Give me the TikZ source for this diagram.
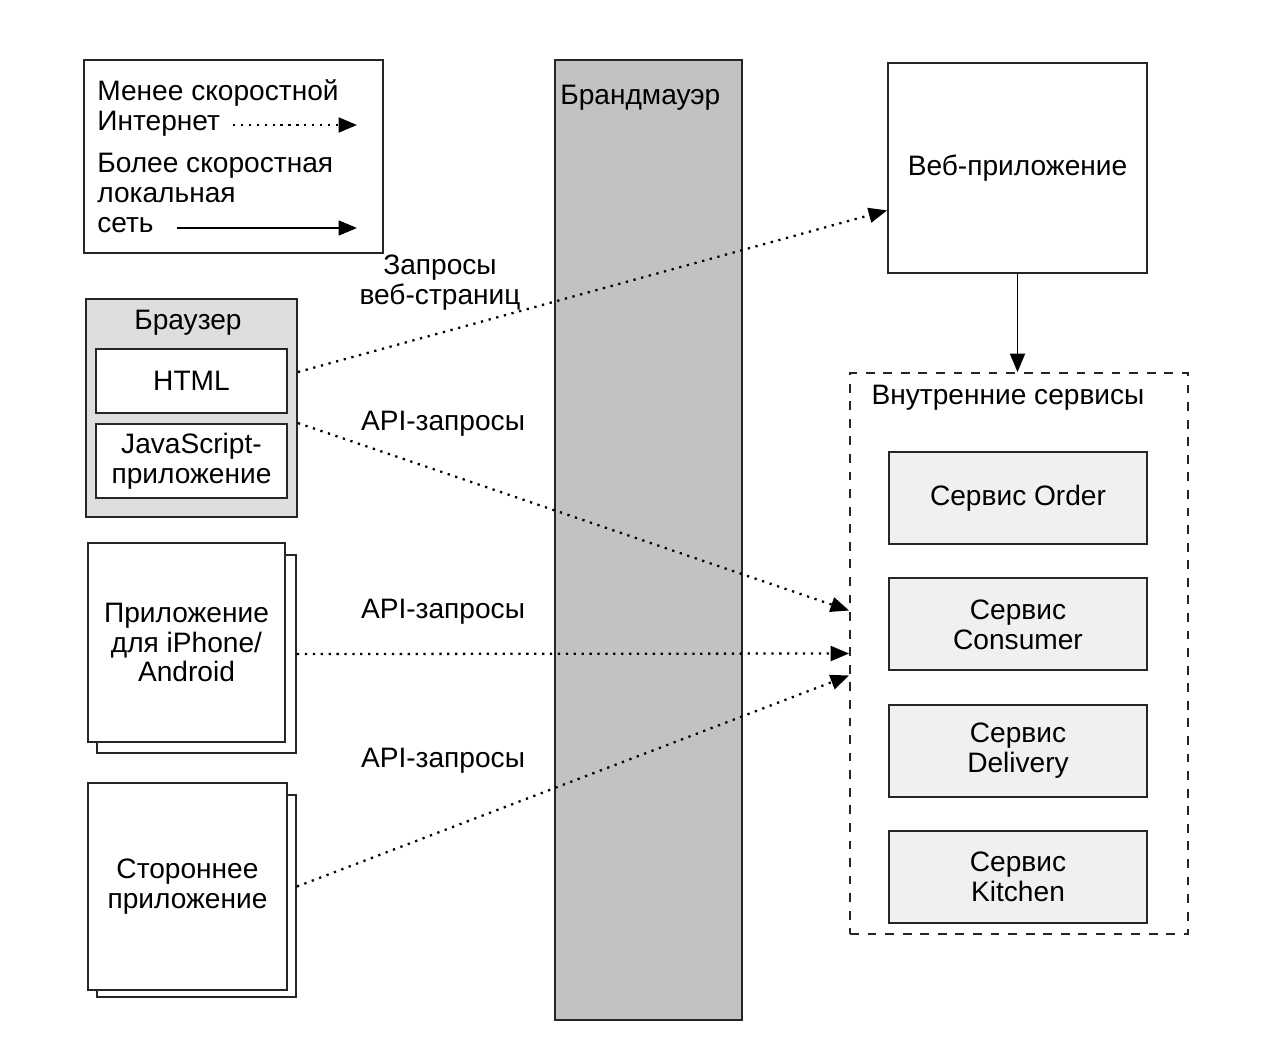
\documentclass[tikz,border=0pt]{standalone}
\usepackage{fontspec}
\setmainfont{Liberation Sans}
\usetikzlibrary{arrows.meta, positioning, calc}

\begin{document}
\begin{tikzpicture}[x=0.02cm, y=-0.02cm, node distance=0.65cm,
    every node/.style={font=\fontsize{16}{17}\selectfont},
    box/.style={rectangle, draw=black!85, line width=1.1pt, align=center, inner sep=0pt},
    svcbox/.style={box, fill=black!6, minimum width=5.16cm, minimum height=1.84cm},
    txt/.style={align=left, inner sep=0pt},
    net/.style={line width=1.3pt, dash pattern=on 1.3pt off 3.2pt, -{Triangle[length=10.5pt,width=8.5pt]}},
    lan/.style={line width=1.1pt, -{Triangle[length=10.5pt,width=8.5pt]}}]

    \useasboundingbox (0,0) rectangle (1266,1048);

    % legend
    \node[box, minimum width=5.98cm, minimum height=3.86cm] (legend) at (233.5,156.5) {};
    \node[txt, anchor=west] (slow) at (97,108) {Менее скоростной\\Интернет};
    \node[txt, anchor=west] (fast) at (97,193) {Более скоростная\\локальная\\сеть};
    \coordinate (slowA) at (233,125);
    \coordinate (slowB) at (357,125);
    \coordinate (fastA) at (177,228);
    \coordinate (fastB) at (357,228);
    \draw[net] (slowA) -- (slowB);
    \draw[lan] (fastA) -- (fastB);

    % clients
    \node[box, fill=black!13, minimum width=4.22cm, minimum height=4.36cm] (browser) at (191.5,408) {};
    \node at (188,323) (browserlbl) {Браузер};
    \node[box, fill=white, minimum width=3.82cm, minimum height=1.28cm] (html) at (191.5,381) {HTML};
    \node[box, fill=white, minimum width=3.82cm, minimum height=1.48cm] (js) at (191.5,461) {JavaScript-\\приложение};

    \node[box, fill=white, minimum width=3.98cm, minimum height=3.96cm] (phoneback) at (196.5,654) {};
    \node[box, fill=white, minimum width=3.94cm, minimum height=3.98cm] (phone) at (186.5,642.5) {Приложение\\для iPhone/\\Android};

    \node[box, fill=white, minimum width=3.98cm, minimum height=4.04cm] (thirdback) at (196.5,896) {};
    \node[box, fill=white, minimum width=3.98cm, minimum height=4.14cm] (third) at (187.5,886.5) {Стороннее\\приложение};

    % firewall
    \node[box, fill=black!24, minimum width=3.74cm, minimum height=19.2cm] (firewall) at (648.5,540) {};
    \node[txt, anchor=west] (fwlbl) at (560,98) {Брандмауэр};

    % server side
    \node[box, minimum width=5.18cm, minimum height=4.2cm] (webapp) at (1017.5,168) {Веб-приложение};
    \node[box, dashed, dash pattern=on 5pt off 5pt, minimum width=6.76cm, minimum height=11.22cm] (internal) at (1019,653.5) {};
    \node at (1008,398) (internallbl) {Внутренние сервисы};
    \node[svcbox] (order) at (1018,498) {Сервис Order};
    \node[svcbox, below=of order] (consumer) {Сервис\\Consumer};
    \node[svcbox, below=of consumer] (delivery) {Сервис\\Delivery};
    \node[svcbox, below=of delivery] (kitchen) {Сервис\\Kitchen};

    % request labels
    \node[align=center] (pagereq) at (440,283) {Запросы\\веб-страниц};
    \node (apireq1) at (443,424) {API-запросы};
    \node (apireq2) at (443,612) {API-запросы};
    \node (apireq3) at (443,761) {API-запросы};

    % connections
    \draw[net] ([yshift=0.18cm]html.east -| browser.east) -- ($(webapp.west)!0.4!(webapp.south west)$);
    \draw[net] (js.north east -| browser.east) -- ([yshift=0.86cm]internal.west);
    \draw[net] (phoneback.east) -- (internal.west);
    \draw[net] (third.east -| thirdback.east) -- ([yshift=-0.44cm]internal.west);
    \draw[lan] (webapp) -- (webapp |- internal.north);
\end{tikzpicture}
\end{document}
